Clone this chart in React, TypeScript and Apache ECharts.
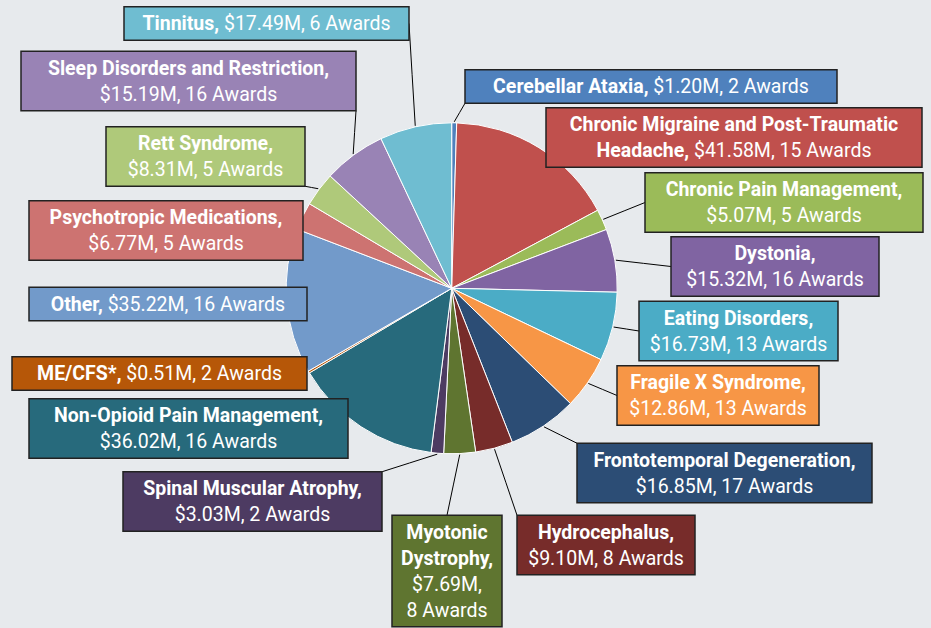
import React, { useEffect, useRef } from 'react';
import * as echarts from 'echarts';

// ---------- data ----------
const categories = [
  'Cerebellar Ataxia',
  'Chronic Migraine and Post-Traumatic Headache',
  'Chronic Pain Management',
  'Dystonia',
  'Eating Disorders',
  'Fragile X Syndrome',
  'Frontotemporal Degeneration',
  'Hydrocephalus',
  'Myotonic Dystrophy',
  'Spinal Muscular Atrophy',
  'Non-Opioid Pain Management',
  'ME/CFS*',
  'Other',
  'Psychotropic Medications',
  'Rett Syndrome',
  'Sleep Disorders and Restriction',
  'Tinnitus',
];
const fundingMillions = [1.2, 41.58, 5.07, 15.32, 16.73, 12.86, 16.85, 9.1, 7.69, 3.03, 36.02, 0.51, 35.22, 6.77, 8.31, 15.19, 17.49];
const awardCounts = [2, 15, 5, 16, 13, 13, 17, 8, 8, 2, 16, 2, 16, 5, 5, 16, 6];

// ---------- styles / layout ----------
const sliceColors = [
  '#4f81bd', '#c0504d', '#9bbb59', '#8064a2', '#4bacc6', '#f79646',
  '#2c4d75', '#772c2a', '#5f7530', '#4d3b62', '#276a7c', '#b65708',
  '#729aca', '#cd7371', '#afc97a', '#9983b5', '#6fbdd1',
];
// word indices after which the label text wraps
const labelBreaks = [[], [4], [3], [1], [2], [3], [2], [1], [1, 2, 3], [3], [3], [], [], [2], [2], [4], []];
// label box centre x, centre y, outer width
const labelBoxCX = [651, 734, 784, 775, 738.5, 718, 724.5, 606, 447, 252.5, 188.5, 159.5, 168, 166, 205.5, 188.5, 266.5];
const labelBoxCY = [86.5, 137.5, 202.5, 266.5, 331, 395.5, 473, 545, 571, 501.5, 428.5, 373.5, 304, 230.5, 156.5, 81, 23.5];
const labelBoxW = [372, 376, 278, 208, 199, 202, 295, 178, 110, 259, 319, 295, 278, 274, 199, 335, 285];

const W = 931, H = 628;
const CX = 451.7, CY = 288.3, R = 165.5;
const BG = '#e7eaed';
const FONT = 'Roboto, "Liberation Sans", sans-serif';
const FS = 19.5, LH = 26, PADY = 3, PADX = 2, BW = 1.5;

function buildLabel(i: number): { text: string; lines: number } {
  const words = categories[i].split(' ');
  words[words.length - 1] += ',';
  const nName = words.length;
  const all = [...words, `$${fundingMillions[i].toFixed(2)}M,`, String(awardCounts[i]), 'Awards'];
  const bounds = [...labelBreaks[i], all.length];
  const out: string[] = [];
  let s = 0;
  for (const e of bounds) {
    const bold: string[] = [];
    const reg: string[] = [];
    for (let k = s; k < e; k++) (k < nName ? bold : reg).push(all[k]);
    let line = '';
    if (bold.length) line += `{b|${bold.join(' ')}${reg.length ? ' ' : ''}}`;
    if (reg.length) line += `{r|${reg.join(' ')}}`;
    out.push(line);
    s = e;
  }
  return { text: out.join('\n'), lines: out.length };
}

function geometry() {
  const total = fundingMillions.reduce((a, b) => a + b, 0);
  let cum = 0;
  return fundingMillions.map((v, i) => {
    const mid = ((cum + v / 2) / total) * Math.PI * 2;
    cum += v;
    const { lines } = buildLabel(i);
    const h = lines * LH + 2 * PADY + BW;
    const w = labelBoxW[i];
    const left = labelBoxCX[i] - w / 2, right = labelBoxCX[i] + w / 2;
    const top = labelBoxCY[i] - h / 2, bottom = labelBoxCY[i] + h / 2;
    const sx = CX + (R + 1) * Math.sin(mid);
    const sy = CY - (R + 1) * Math.cos(mid);
    const nx = Math.min(Math.max(CX, left), right);
    const ny = Math.min(Math.max(CY, top), bottom);
    const overlaps = Math.hypot(nx - CX, ny - CY) < R;
    const mx = (left + right) / 2, my = (top + bottom) / 2;
    const cands: [number, number, number][] = [
      [left, my, 1], [right, my, 1], [mx, top, 1], [mx, bottom, 1],
      [left, top, 1.2], [right, top, 1.2], [left, bottom, 1.2], [right, bottom, 1.2],
    ];
    let best = cands[0], bd = Infinity;
    for (const c of cands) {
      const d = Math.hypot(c[0] - sx, c[1] - sy) * c[2];
      if (d < bd) { bd = d; best = c; }
    }
    return { showLine: !overlaps, points: [[sx, sy], [(sx + best[0]) / 2, (sy + best[1]) / 2], [best[0], best[1]]] };
  });
}

export default function App() {
  const ref = useRef<HTMLDivElement>(null);
  useEffect(() => {
    if (!ref.current) return;
    const chart = echarts.init(ref.current, undefined, { renderer: 'svg' });
    const geo = geometry();
    const richBase = { color: '#fff', fontSize: FS, lineHeight: LH, fontFamily: FONT, align: 'center' as const };
    const data = categories.map((name, i) => ({
      name,
      value: fundingMillions[i],
      itemStyle: { color: sliceColors[i] },
      label: {
        formatter: buildLabel(i).text,
        backgroundColor: sliceColors[i],
        width: labelBoxW[i] - 2 * PADX - BW,
      },
      labelLine: { show: geo[i].showLine },
    }));
    chart.setOption({
      animation: false,
      backgroundColor: BG,
      series: [
        {
          type: 'pie',
          center: [CX, CY],
          radius: [0, R],
          startAngle: 90,
          clockwise: true,
          avoidLabelOverlap: false,
          silent: true,
          itemStyle: { borderColor: '#ffffff', borderWidth: 1 },
          label: {
            show: true,
            position: 'outside',
            color: '#fff',
            fontFamily: FONT,
            fontSize: FS,
            lineHeight: LH,
            align: 'center',
            overflow: 'none',
            borderColor: '#222',
            borderWidth: BW,
            padding: [PADY, PADX],
            rich: {
              b: { ...richBase, fontWeight: 'bold' },
              r: { ...richBase, fontWeight: 'normal' },
            },
          },
          labelLine: { show: true, smooth: false, lineStyle: { color: '#000', width: 1 } },
          labelLayout: (p: any) => {
            const i = p.dataIndex;
            const res: any = { x: labelBoxCX[i], y: labelBoxCY[i], align: 'center', verticalAlign: 'middle' };
            if (geo[i].showLine) res.labelLinePoints = geo[i].points;
            return res;
          },
          data,
        },
      ],
    });
    return () => chart.dispose();
  }, []);
  return (
    <div
      ref={ref}
      style={{ position: 'fixed', left: 0, top: 0, width: W, height: H, background: BG }}
    />
  );
}
